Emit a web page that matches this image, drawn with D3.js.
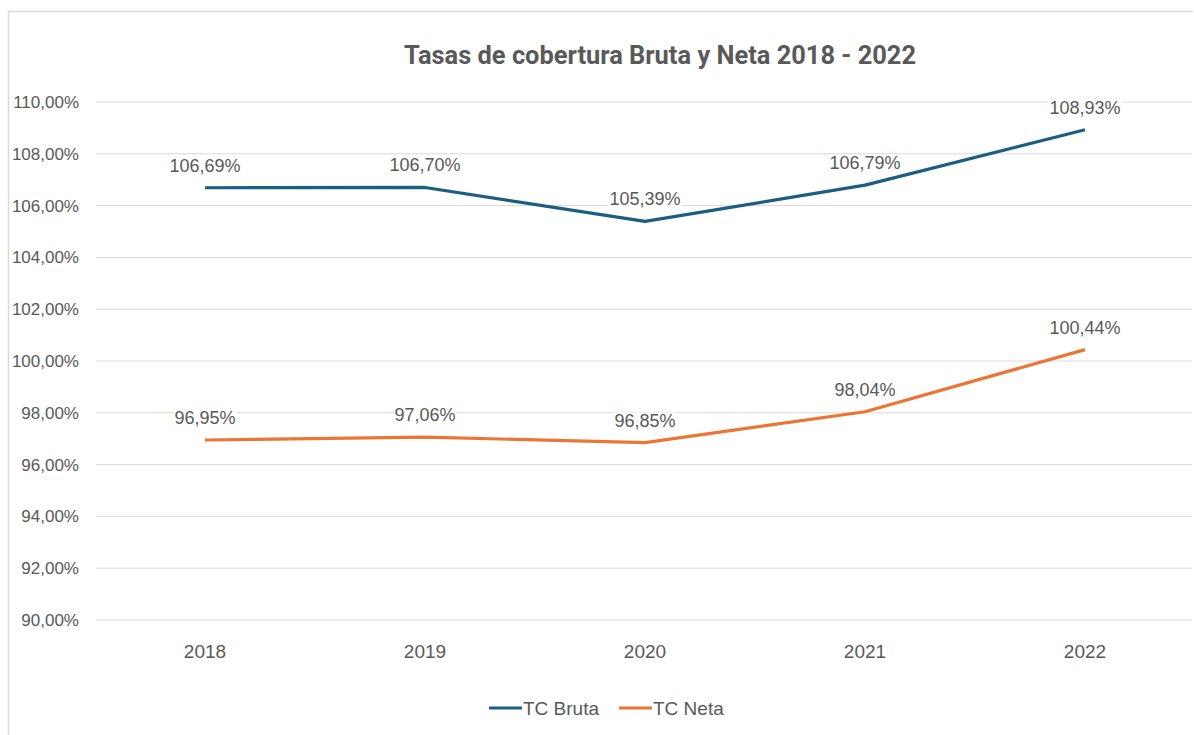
<!DOCTYPE html>
<html><head><meta charset="utf-8">
<script src="https://cdn.jsdelivr.net/npm/d3@7"></script>
<style>body{margin:0;background:#fff;} svg{display:block;}</style>
</head><body>
<svg id="c" width="1194" height="735"></svg>
<script>
const years = ["2018","2019","2020","2021","2022"];
const tcBruta = [106.69, 106.70, 105.39, 106.79, 108.93];
const tcNeta = [96.95, 97.06, 96.85, 98.04, 100.44];
const yTicks = [90,92,94,96,98,100,102,104,106,108,110];
const seriesNames = ["TC Bruta","TC Neta"];
const colors = ["#1b5e80","#ec7534"];

const svg = d3.select("#c");
const fmt = v => d3.format(".2f")(v).replace(".", ",") + "%";

// border
svg.append("path").attr("d","M8.5,740 V11.5 H1193").attr("fill","none").attr("stroke","#d9d9d9").attr("stroke-width",1.5);

const x = d3.scalePoint().domain(years).range([205,1085]);
const y = d3.scaleLinear().domain([90,110]).range([620,102]);
const font = "'Liberation Sans', Arial, sans-serif";

// gridlines
svg.append("g").selectAll("line").data(yTicks).join("line")
  .attr("x1",96).attr("x2",1192).attr("y1",d=>y(d)).attr("y2",d=>y(d))
  .attr("stroke","#d9d9d9").attr("stroke-width",1);

// y labels
svg.append("g").selectAll("text").data(yTicks).join("text")
  .attr("x",79).attr("y",d=>y(d)).attr("dy","0.35em").attr("text-anchor","end")
  .attr("font-family",font).attr("font-size",17).attr("fill","#595959")
  .text(d=>fmt(d));

// x labels
svg.append("g").selectAll("text").data(years).join("text")
  .attr("x",d=>x(d)).attr("y",658).attr("text-anchor","middle")
  .attr("font-family",font).attr("font-size",19).attr("fill","#595959")
  .text(d=>d);

// title
svg.append("text").attr("x",660).attr("y",64).attr("text-anchor","middle")
  .attr("font-family","'Liberation Sans Narrow', 'Roboto', sans-serif").attr("font-weight","bold")
  .attr("font-size",25).attr("fill","#595959").attr("textLength",512).attr("lengthAdjust","spacingAndGlyphs")
  .text("Tasas de cobertura Bruta y Neta 2018 - 2022");

const line = d3.line().x((d,i)=>x(years[i])).y(d=>y(d));
[tcBruta, tcNeta].forEach((s,k)=>{
  svg.append("path").datum(s).attr("d",line).attr("fill","none")
    .attr("stroke",colors[k]).attr("stroke-width",3.2).attr("stroke-linejoin","round");
  const g = svg.append("g");
  s.forEach((v,i)=>{
    const tx = x(years[i]), ty = y(v) - 16;
    const t = g.append("text").attr("x",tx).attr("y",ty).attr("text-anchor","middle")
      .attr("font-family",font).attr("font-size",18).attr("fill","#595959").text(fmt(v));
    const bb = t.node().getBBox();
    g.insert("rect","text").attr("x",bb.x-1).attr("y",bb.y+2).attr("width",bb.width+2).attr("height",bb.height-3).attr("fill","#fff");
  });
});

// legend
const leg = svg.append("g");
const lx = [489, 619];
seriesNames.forEach((n,k)=>{
  leg.append("line").attr("x1",lx[k]).attr("x2",lx[k]+33).attr("y1",708).attr("y2",708)
    .attr("stroke",colors[k]).attr("stroke-width",3.2);
  leg.append("text").attr("x",lx[k]+34).attr("y",708).attr("dy","0.35em")
    .attr("font-family",font).attr("font-size",19).attr("fill","#595959").text(n);
});
</script>
</body></html>
